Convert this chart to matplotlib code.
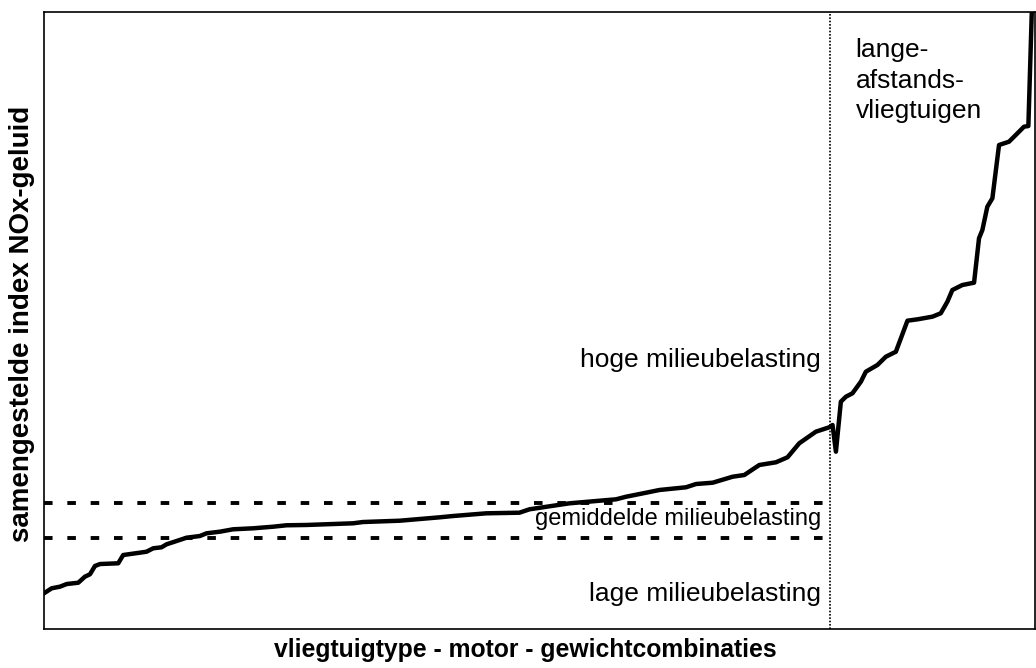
import numpy as np
import matplotlib
matplotlib.use("Agg")
import matplotlib.pyplot as plt

plt.rcParams['font.family'] = ['Liberation Sans', 'DejaVu Sans']

# ranked aircraft-engine-weight combinations (relative position 0..100)
combo_pos = [0.0, 0.78, 1.61, 2.29, 3.46, 4.13, 4.64, 5.14, 5.65, 7.49, 7.99, 9.68,
             10.35, 11.02, 11.86, 12.37, 13.38, 14.39, 15.73, 16.40, 17.74, 19.08,
             21.10, 23.12, 24.47, 26.48, 31.18, 32.19, 35.89, 39.92, 41.26, 44.63,
             47.98, 48.99, 53.02, 57.73, 58.74, 60.76, 62.10, 64.79, 65.80, 67.47,
             69.49, 70.67, 72.18, 73.86, 75.03, 76.21, 77.89, 79.23, 79.57, 79.91,
             80.41, 80.92, 81.58, 82.43, 82.93, 84.10, 84.95, 85.96, 87.13, 88.14,
             89.65, 90.49, 91.16, 91.66, 92.67, 93.85, 94.35, 94.69, 95.19, 95.70,
             96.37, 97.38, 98.39, 98.89, 99.33, 99.67, 99.80]
# composite index NOx-noise
index_val = [5.79, 6.60, 6.86, 7.29, 7.50, 8.48, 8.87, 10.21, 10.53, 10.65, 11.99, 12.37,
             12.53, 13.08, 13.24, 13.73, 14.26, 14.80, 15.07, 15.51, 15.77, 16.16,
             16.32, 16.58, 16.81, 16.86, 17.13, 17.34, 17.55, 18.10, 18.31, 18.75,
             18.85, 19.40, 20.37, 21.02, 21.44, 22.09, 22.53, 22.97, 23.50, 23.71,
             24.68, 24.96, 26.58, 27.02, 27.83, 30.10, 31.98, 32.69, 33.06, 28.74,
             36.84, 37.65, 38.20, 40.08, 41.70, 42.79, 44.13, 44.94, 49.97, 50.19,
             50.62, 51.17, 53.05, 54.94, 55.75, 56.13, 63.32, 64.67, 68.44, 69.81,
             78.44, 78.98, 80.60, 81.41, 81.52, 99.68, 104.0]

band_upper = 20.42
band_lower = 14.75
long_haul_start = 79.33

fig = plt.figure(figsize=(10.36, 6.68), dpi=100)
ax = fig.add_axes([44/1036, 39/668, 991/1036, 617/668])

ax.plot(combo_pos, index_val, color='black', lw=3.2, solid_joinstyle='round')
ax.plot([0, 79.0], [band_upper, band_upper], color='black', lw=2.8, linestyle=(0, (2.2, 3.8)))
ax.plot([0, 79.0], [band_lower, band_lower], color='black', lw=2.8, linestyle=(0, (2.2, 3.8)))
ax.axvline(long_haul_start, color='black', lw=1.2, linestyle=(0, (1, 1)))

ax.set_xlim(0, 100)
ax.set_ylim(0, 100)
ax.set_xticks([])
ax.set_yticks([])
for s in ax.spines.values():
    s.set_linewidth(1.2)

fs = 19
ax.text(78.4, 43.6, "hoge milieubelasting", ha='right', va='center', fontsize=fs)
ax.text(78.4, 17.8, "gemiddelde milieubelasting", ha='right', va='center', fontsize=17)
ax.text(78.4, 5.7, "lage milieubelasting", ha='right', va='center', fontsize=fs)
ax.text(81.9, 95.8, "lange-\nafstands-\nvliegtuigen", ha='left', va='top', fontsize=fs,
        linespacing=1.35)

fig.text(525/1036, 1 - 657/668, "vliegtuigtype - motor - gewichtcombinaties",
         ha='center', va='baseline', fontsize=17.8, fontweight='bold')
fig.text(22/1036, 1 - 324/668, "samengestelde index NOx-geluid", ha='center', va='center',
         rotation=90, fontsize=20, fontweight='bold')

fig.savefig("out.png", dpi=100)
